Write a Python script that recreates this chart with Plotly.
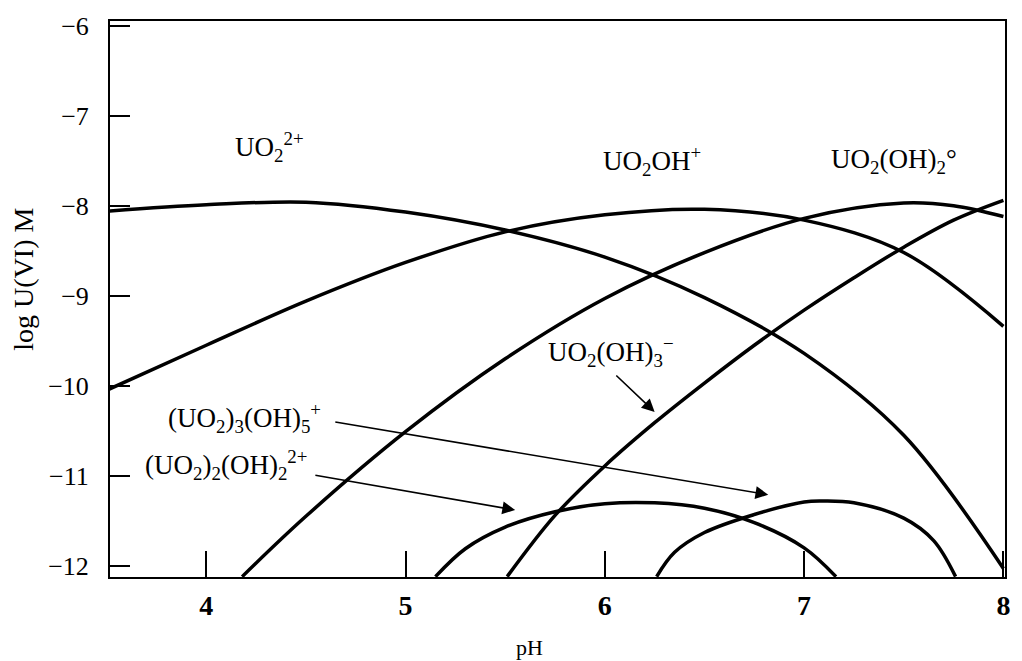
import plotly.graph_objects as go

# ---- data (pH vs log concentration) ----
ph_uo2 = [3.5, 4.0, 4.5, 5.0, 5.5, 6.0, 6.5, 7.0, 7.5, 8.0]
log_uo2 = [-8.06, -7.99, -7.96, -8.07, -8.27, -8.57, -9.02, -9.64, -10.55, -12.03]

ph_uo2oh = [3.5, 4.0, 4.5, 5.0, 5.5, 6.0, 6.5, 7.0, 7.5, 8.0]
log_uo2oh = [-10.05, -9.55, -9.06, -8.63, -8.29, -8.10, -8.04, -8.16, -8.52, -9.34]

ph_uo2oh2 = [4.18, 4.5, 5.0, 5.5, 6.0, 6.5, 7.0, 7.5, 7.75, 8.0]
log_uo2oh2 = [-12.12, -11.45, -10.51, -9.70, -9.03, -8.52, -8.14, -7.97, -8.00, -8.12]

ph_uo2oh3 = [5.51, 5.75, 6.0, 6.25, 6.5, 6.75, 7.0, 7.25, 7.5, 7.75, 8.0]
log_uo2oh3 = [-12.12, -11.44, -10.89, -10.41, -9.97, -9.55, -9.16, -8.80, -8.46, -8.16, -7.94]

ph_u2oh2 = [5.15, 5.3, 5.5, 5.75, 6.0, 6.25, 6.5, 6.75, 7.0, 7.16]
log_u2oh2 = [-12.12, -11.81, -11.57, -11.40, -11.31, -11.30, -11.36, -11.52, -11.80, -12.12]

ph_u3oh5 = [6.26, 6.35, 6.5, 6.75, 7.0, 7.1, 7.25, 7.5, 7.65, 7.76]
log_u3oh5 = [-12.12, -11.85, -11.63, -11.43, -11.29, -11.28, -11.30, -11.47, -11.72, -12.12]

x_ticks = [4, 5, 6, 7, 8]
y_ticks = [-6, -7, -8, -9, -10, -11, -12]
y_ticktext = ["\u22126", "\u22127", "\u22128", "\u22129", "\u221210", "\u221211", "\u221212"]

series = [
    (ph_uo2, log_uo2),
    (ph_uo2oh, log_uo2oh),
    (ph_uo2oh2, log_uo2oh2),
    (ph_uo2oh3, log_uo2oh3),
    (ph_u2oh2, log_u2oh2),
    (ph_u3oh5, log_u3oh5),
]

SERIF = "Liberation Serif, Times New Roman, serif"

fig = go.Figure()
for xs, ys in series:
    fig.add_trace(go.Scatter(
        x=xs, y=ys, mode="lines",
        line=dict(color="black", width=3.5, shape="spline", smoothing=1.0),
        showlegend=False, hoverinfo="skip",
    ))

labels = [
    (4.316, -7.35, "UO<sub>2</sub><sup>2+</sup>"),
    (6.236, -7.50, "UO<sub>2</sub>OH<sup>+</sup>"),
    (7.45, -7.50, "UO<sub>2</sub>(OH)<sub>2</sub>\u00b0"),
    (6.03, -9.63, "UO<sub>2</sub>(OH)<sub>3</sub><sup>\u2212</sup>"),
    (4.19, -10.36, "(UO<sub>2</sub>)<sub>3</sub>(OH)<sub>5</sub><sup>+</sup>"),
    (4.10, -10.88, "(UO<sub>2</sub>)<sub>2</sub>(OH)<sub>2</sub><sup>2+</sup>"),
]
annotations = []
for x, y, t in labels:
    annotations.append(dict(
        x=x, y=y, xref="x", yref="y", text=t, showarrow=False,
        font=dict(family=SERIF, size=27, color="black"),
        xanchor="center", yanchor="middle",
    ))

arrows = [
    ((6.05, -9.87), (6.25, -10.29)),
    ((4.64, -10.40), (6.82, -11.21)),
    ((4.54, -10.99), (5.55, -11.38)),
]
for (tx, ty), (hx, hy) in arrows:
    annotations.append(dict(
        x=hx, y=hy, ax=tx, ay=ty, xref="x", yref="y", axref="x", ayref="y",
        text="", showarrow=True, arrowhead=2, arrowsize=1.6, arrowwidth=1.6,
        arrowcolor="black", standoff=0,
    ))

PW = 1022 - 110 - 12
PH = 577 - 15
annotations.append(dict(
    x=(532 - 110) / PW, y=-(648 - 577) / PH, xref="paper", yref="paper",
    text="pH", showarrow=False, xanchor="center", yanchor="middle",
    font=dict(family=SERIF, size=22, color="black"),
))
annotations.append(dict(
    x=-(110 - 23) / PW, y=(577 - 276) / PH, xref="paper", yref="paper",
    text="log U(VI) M", showarrow=False, textangle=-90,
    xanchor="center", yanchor="middle",
    font=dict(family=SERIF, size=28, color="black"),
))

fig.update_layout(
    width=1022, height=661,
    margin=dict(l=110, r=12, t=15, b=84),
    paper_bgcolor="white", plot_bgcolor="white",
    xaxis=dict(
        range=[3.517, 8.008], tickvals=x_ticks, ticktext=[str(v) for v in x_ticks],
        ticks="inside", ticklen=26, tickwidth=1.5, tickcolor="black",
        showline=True, linecolor="black", linewidth=2, mirror=True,
        showgrid=False, zeroline=False,
        tickfont=dict(family=SERIF, size=28, color="black", weight="bold"),
        ticklabelstandoff=2,
    ),
    yaxis=dict(
        range=[-12.124, -5.948], tickvals=y_ticks, ticktext=y_ticktext,
        ticks="inside", ticklen=20, tickwidth=1.5, tickcolor="black",
        showline=True, linecolor="black", linewidth=2, mirror=True,
        showgrid=False, zeroline=False,
        tickfont=dict(family=SERIF, size=26, color="black"),
        ticklabelstandoff=14,
    ),
    annotations=annotations,
)

fig.write_html("out.html")
